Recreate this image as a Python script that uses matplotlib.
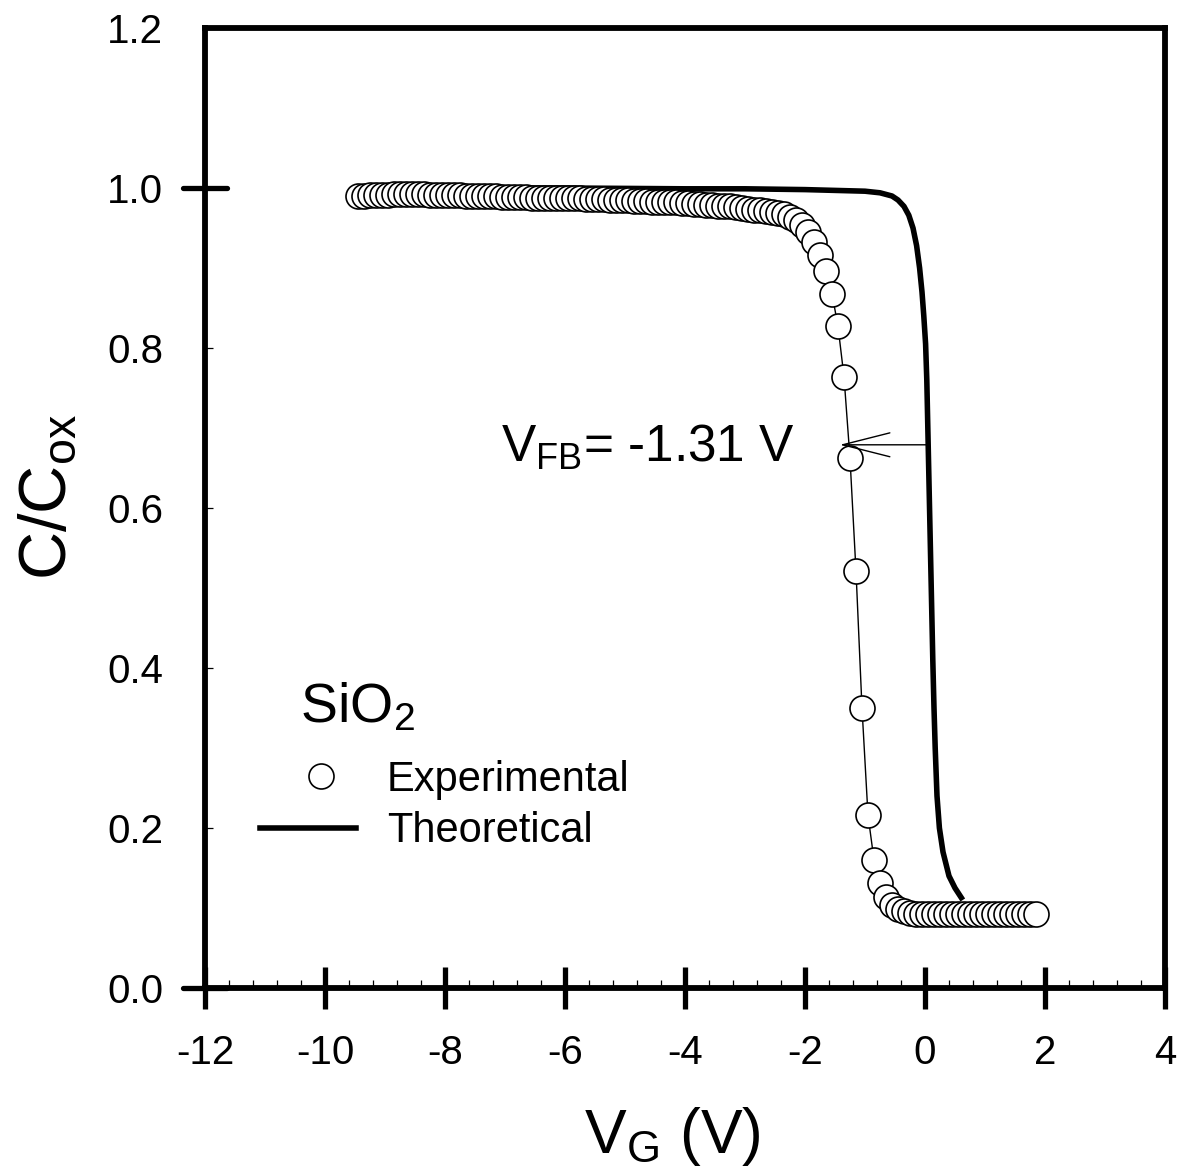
import matplotlib
matplotlib.use("Agg")
import numpy as np
import matplotlib.pyplot as plt
from matplotlib.lines import Line2D
from matplotlib.legend_handler import HandlerLine2D
from matplotlib.ticker import MultipleLocator

plt.rcParams['font.family'] = ['Liberation Sans', 'DejaVu Sans']
plt.rcParams['mathtext.fontset'] = 'custom'
plt.rcParams['mathtext.rm'] = 'Liberation Sans'
plt.rcParams['mathtext.it'] = 'Liberation Sans:italic'
plt.rcParams['mathtext.bf'] = 'Liberation Sans:bold'

# ---- data ----
exp_vg = [-9.45, -9.35, -9.25, -9.15, -9.05, -8.95, -8.85, -8.75, -8.65, -8.55,
          -8.45, -8.35, -8.25, -8.15, -8.05, -7.95, -7.85, -7.75, -7.65, -7.55,
          -7.45, -7.35, -7.25, -7.15, -7.05, -6.95, -6.85, -6.75, -6.65, -6.55,
          -6.45, -6.35, -6.25, -6.15, -6.05, -5.95, -5.85, -5.75, -5.65, -5.55,
          -5.45, -5.35, -5.25, -5.15, -5.05, -4.95, -4.85, -4.75, -4.65, -4.55,
          -4.45, -4.35, -4.25, -4.15, -4.05, -3.95, -3.85, -3.75, -3.65, -3.55,
          -3.45, -3.35, -3.25, -3.15, -3.05, -2.95, -2.85, -2.75, -2.65, -2.55,
          -2.45, -2.35, -2.25, -2.15, -2.05, -1.95, -1.85, -1.75, -1.65, -1.55,
          -1.45, -1.35, -1.25, -1.15, -1.05, -0.95, -0.85, -0.75, -0.65, -0.55,
          -0.45, -0.35, -0.25, -0.15, -0.05, 0.05, 0.15, 0.25, 0.35, 0.45,
          0.55, 0.65, 0.75, 0.85, 0.95, 1.05, 1.15, 1.25, 1.35, 1.45,
          1.55, 1.65, 1.75, 1.85]
exp_c = [0.990, 0.990, 0.991, 0.991, 0.991, 0.991, 0.992, 0.992, 0.992, 0.992,
         0.992, 0.992, 0.991, 0.991, 0.991, 0.991, 0.991, 0.991, 0.990, 0.990,
         0.990, 0.990, 0.990, 0.990, 0.989, 0.989, 0.989, 0.989, 0.989, 0.988,
         0.988, 0.988, 0.988, 0.988, 0.987, 0.987, 0.987, 0.987, 0.986, 0.986,
         0.986, 0.986, 0.985, 0.985, 0.985, 0.985, 0.984, 0.984, 0.984, 0.983,
         0.983, 0.983, 0.982, 0.982, 0.981, 0.981, 0.980, 0.980, 0.979, 0.979,
         0.978, 0.977, 0.977, 0.976, 0.975, 0.974, 0.973, 0.972, 0.971, 0.970,
         0.969, 0.967, 0.964, 0.960, 0.954, 0.945, 0.933, 0.916, 0.896, 0.868,
         0.827, 0.764, 0.662, 0.521, 0.350, 0.216, 0.160, 0.131, 0.114, 0.104,
         0.099, 0.096, 0.094, 0.093, 0.093, 0.093, 0.093, 0.093, 0.093, 0.093,
         0.093, 0.093, 0.093, 0.093, 0.093, 0.093, 0.093, 0.093, 0.093, 0.093,
         0.093, 0.093, 0.093, 0.093]

theo_vg = [-9.45, -6.0, -4.0, -3.0, -2.0, -1.5, -1.0, -0.75, -0.55, -0.45, -0.35,
           -0.27, -0.2, -0.14, -0.09, -0.05, -0.02, 0.01, 0.03, 0.05, 0.07, 0.09,
           0.11, 0.13, 0.15, 0.17, 0.20, 0.24, 0.30, 0.40, 0.50, 0.63]
theo_c = [1.000, 1.000, 0.999, 0.999, 0.998, 0.997, 0.996, 0.994, 0.990, 0.985,
          0.977, 0.966, 0.950, 0.928, 0.900, 0.870, 0.840, 0.805, 0.760, 0.690,
          0.620, 0.550, 0.480, 0.410, 0.350, 0.300, 0.240, 0.200, 0.170, 0.140,
          0.125, 0.110]

x_ticks = [-12, -10, -8, -6, -4, -2, 0, 2, 4]
y_ticks = [0.0, 0.2, 0.4, 0.6, 0.8, 1.0, 1.2]
vfb_label = r"$\mathregular{V_{FB}}$= -1.31 V"
vfb_y = 0.679
vfb_from = 0.05
vfb_to = -1.42


class ShiftedMarkerHandler(HandlerLine2D):
    """Legend handler that draws the marker somewhat right of the handle centre."""
    def create_artists(self, legend, orig_handle, xdescent, ydescent, width,
                       height, fontsize, trans):
        arts = super().create_artists(legend, orig_handle, xdescent, ydescent,
                                      width, height, fontsize, trans)
        for a in arts:
            xd = np.asarray(a.get_xdata(), dtype=float)
            a.set_xdata(xd + 0.14 * width)
        return arts


# ---- figure ----
fig = plt.figure(figsize=(11.88, 11.69), dpi=100)
ax = fig.add_axes([205/1188, 1 - 988/1169, 960/1188, 960/1169])

ax.plot(theo_vg, theo_c, color='k', lw=4.0, solid_capstyle='butt', zorder=2)
ax.plot(exp_vg, exp_c, color='k', lw=1.0, marker='o', ms=18, mfc='white',
        mec='k', mew=1.2, zorder=3)

ax.set_xlim(-12, 4)
ax.set_ylim(0, 1.2)
ax.set_xticks(x_ticks)
ax.set_xticklabels([str(t) for t in x_ticks])
ax.set_yticks(y_ticks)
ax.set_yticklabels([f"{t:.1f}" for t in y_ticks])
ax.xaxis.set_minor_locator(MultipleLocator(0.4))

for s in ax.spines.values():
    s.set_linewidth(4.2)

ax.tick_params(axis='x', which='major', direction='inout', length=30, width=3.8,
               labelsize=29, pad=18)
ax.tick_params(axis='x', which='minor', direction='in', length=6, width=0.9)
ax.tick_params(axis='y', which='major', direction='in', length=6, width=0.9,
               labelsize=29, pad=30)
ax.tick_params(top=False, right=False)

# special thick y ticks at 0.0 and 1.0
for yv in (0.0, 1.0):
    ax.axhline(yv, xmin=-22/960, xmax=22/960, color='k', lw=3.8,
               solid_capstyle='round', clip_on=False, zorder=5)

ax.set_xlabel(r"$\mathregular{V_G}$ (V)", fontsize=45, labelpad=24)
ax.xaxis.label.set_x(0.487)
ax.set_ylabel(r"$\mathregular{C/C_{ox}}$", fontsize=48, labelpad=20)
ax.yaxis.label.set_y(0.511)

# V_FB annotation
ax.annotate('', xy=(vfb_to, vfb_y), xytext=(vfb_from, vfb_y),
            arrowprops=dict(arrowstyle='->,head_length=3.4,head_width=0.86',
                            mutation_scale=10, lw=1.0, color='k',
                            shrinkA=0, shrinkB=0))
ax.text(-2.17, 0.6575, vfb_label, fontsize=37, ha='right', va='baseline')

# legend
ax.text(0.099, 0.277, r"$\mathregular{SiO_2}$", fontsize=40, transform=ax.transAxes,
        ha='left', va='baseline')
handles = [Line2D([], [], ls='none', marker='o', ms=18, mfc='white', mec='k', mew=1.2),
           Line2D([], [], color='k', lw=4.0)]
ax.legend(handles, ['Experimental', 'Theoretical'], loc='upper left',
          bbox_to_anchor=(0.057, 0.238), frameon=False, fontsize=30,
          handlelength=2.3, handletextpad=0.75, labelspacing=0.28, borderpad=0,
          borderaxespad=0, handler_map={handles[0]: ShiftedMarkerHandler()})

fig.savefig('out.png', dpi=100)
